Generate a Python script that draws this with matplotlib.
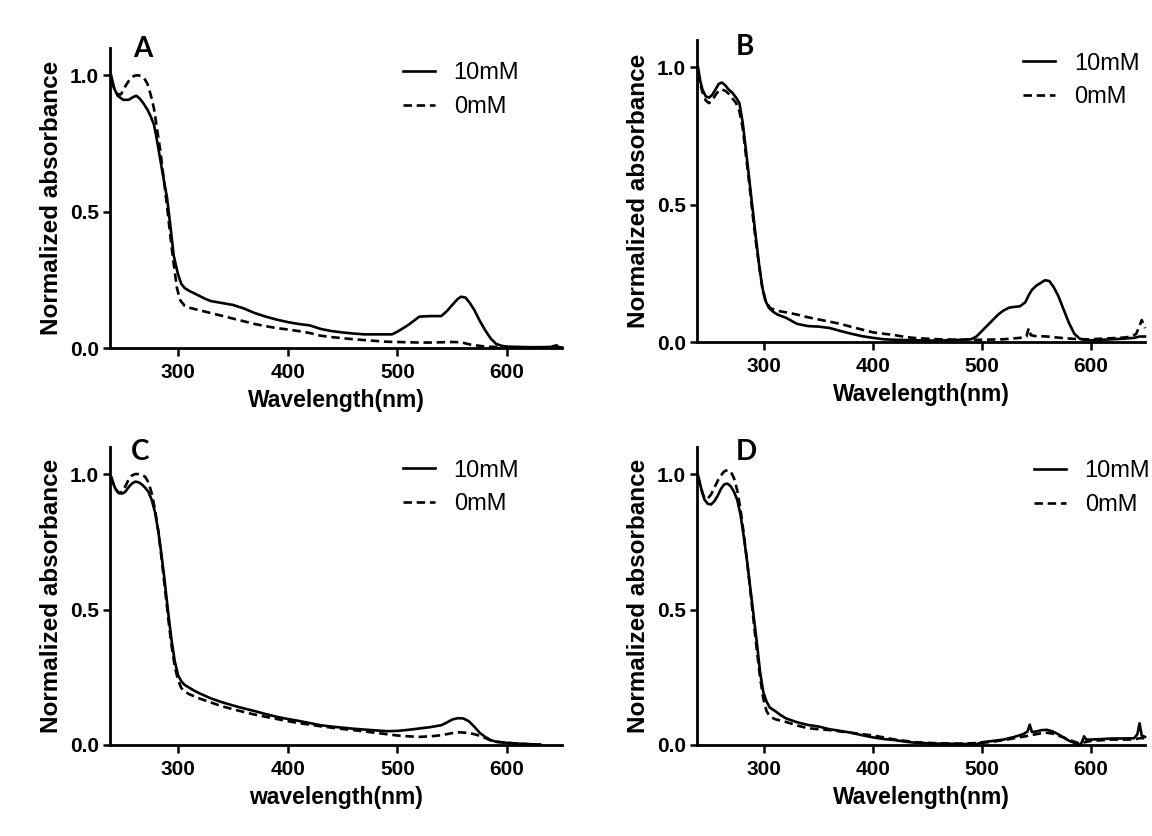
import matplotlib
matplotlib.use("Agg")
import matplotlib.pyplot as plt

plt.rcParams['font.family'] = ['Liberation Sans', 'DejaVu Sans']

# ---------------- data ----------------
a_wl_10 = [239,242,245,250,255,259,262,265,268,272,275,278,280,283,286,290,293,296,300,303,
           306,310,315,320,325,330,340,350,360,370,380,390,400,410,420,430,440,450,460,470,
           480,490,495,500,505,510,515,520,530,540,545,550,555,558,562,566,570,575,580,585,
           590,595,600,610,620,630,640,645,647,650]
a_abs_10 = [1.0,0.95,0.925,0.91,0.91,0.92,0.925,0.915,0.90,0.875,0.85,0.82,0.78,0.71,0.64,0.55,0.45,0.34,0.27,0.235,
            0.22,0.21,0.2,0.19,0.18,0.172,0.165,0.158,0.145,0.128,0.115,0.104,0.095,0.088,0.083,0.07,0.062,0.057,0.053,0.05,
            0.05,0.05,0.05,0.06,0.072,0.085,0.1,0.115,0.117,0.117,0.135,0.158,0.18,0.188,0.185,0.165,0.14,0.1,0.065,0.035,
            0.015,0.008,0.005,0.004,0.003,0.003,0.004,0.01,0.003,0.002]
a_wl_0 = [239,242,245,248,252,256,260,263,266,269,272,275,278,281,284,287,290,293,296,299,
          302,306,310,315,320,330,340,350,360,370,380,390,400,410,420,430,440,450,460,470,
          480,490,500,510,520,530,540,550,558,563,568,575,580,590,600,620,640,650]
a_abs_0 = [0.98,0.95,0.93,0.93,0.96,0.985,0.998,1.0,0.998,0.99,0.97,0.93,0.88,0.80,0.72,0.62,0.52,0.41,0.31,0.22,
           0.175,0.155,0.148,0.143,0.138,0.128,0.118,0.108,0.098,0.088,0.08,0.073,0.068,0.062,0.055,0.045,0.04,0.036,0.032,0.029,
           0.026,0.023,0.022,0.021,0.02,0.02,0.021,0.022,0.021,0.016,0.011,0.008,0.005,0.004,0.003,0.002,0.002,0.001]

b_wl_10 = [239,241,243,246,249,252,255,258,261,264,267,270,274,277,280,283,286,289,292,295,
           298,301,304,308,312,320,330,340,350,360,370,380,390,400,410,420,440,460,480,490,
           495,500,505,510,515,520,525,530,535,540,543,546,550,554,558,562,566,570,575,580,
           585,590,595,600,610,620,630,640,645,650]
b_abs_10 = [1.0,0.95,0.92,0.895,0.89,0.9,0.92,0.94,0.945,0.935,0.92,0.91,0.89,0.87,0.80,0.70,0.595,0.49,0.385,0.285,
            0.20,0.15,0.125,0.11,0.1,0.088,0.066,0.058,0.056,0.051,0.04,0.03,0.021,0.015,0.01,0.008,0.006,0.005,0.008,0.01,
            0.02,0.04,0.06,0.08,0.1,0.115,0.125,0.128,0.13,0.145,0.17,0.19,0.205,0.215,0.225,0.222,0.2,0.17,0.12,0.07,
            0.03,0.012,0.008,0.006,0.008,0.01,0.012,0.015,0.02,0.02]
b_wl_0 = [239,241,243,246,249,252,255,258,261,264,267,270,274,277,280,283,286,289,292,295,
          298,301,305,310,320,330,340,350,360,370,380,390,400,410,420,430,440,460,480,500,
          520,535,541,543,545,548,560,575,590,600,610,620,630,638,642,645,647,650]
b_abs_0 = [0.98,0.94,0.91,0.88,0.87,0.88,0.9,0.915,0.92,0.915,0.905,0.89,0.87,0.84,0.78,0.68,0.58,0.47,0.37,0.28,
           0.2,0.15,0.125,0.115,0.108,0.1,0.09,0.082,0.074,0.066,0.055,0.045,0.035,0.03,0.025,0.018,0.014,0.01,0.008,0.008,
           0.01,0.015,0.02,0.05,0.025,0.022,0.02,0.014,0.01,0.01,0.012,0.014,0.016,0.02,0.03,0.06,0.08,0.05]

c_wl_10 = [239,241,243,246,249,252,255,258,261,264,267,270,273,276,279,282,285,288,291,294,
           297,300,303,306,310,315,320,330,340,350,360,370,380,390,400,410,420,430,440,450,
           460,470,480,490,500,510,520,530,540,545,550,555,560,565,570,575,580,585,590,600,
           610,620,630]
c_abs_10 = [0.99,0.965,0.945,0.93,0.928,0.935,0.952,0.965,0.972,0.97,0.962,0.95,0.935,0.905,0.86,0.79,0.7,0.6,0.49,0.39,
            0.31,0.258,0.235,0.222,0.212,0.2,0.19,0.172,0.158,0.146,0.135,0.125,0.114,0.104,0.096,0.089,0.081,0.073,0.068,0.064,
            0.06,0.057,0.054,0.051,0.052,0.056,0.061,0.066,0.073,0.083,0.094,0.099,0.098,0.088,0.068,0.045,0.03,0.018,0.012,0.008,
            0.005,0.003,0.002]
c_wl_0 = [239,241,243,246,249,252,255,258,261,264,267,270,273,276,279,282,285,288,291,294,
          297,300,303,306,310,320,330,340,350,360,370,380,390,400,410,420,430,440,450,460,
          470,480,490,500,510,520,530,540,550,555,560,565,570,575,580,585,590,600,610,620]
c_abs_0 = [0.99,0.965,0.945,0.93,0.935,0.955,0.98,0.995,1.0,1.0,0.998,0.99,0.97,0.93,0.87,0.79,0.69,0.58,0.47,0.37,
           0.29,0.24,0.21,0.198,0.188,0.171,0.157,0.143,0.132,0.122,0.112,0.104,0.096,0.088,0.081,0.075,0.069,0.064,0.059,0.055,
           0.05,0.045,0.04,0.035,0.032,0.03,0.032,0.036,0.044,0.047,0.046,0.044,0.04,0.034,0.026,0.017,0.012,0.008,0.005,0.003]

d_wl_10 = [239,241,243,245,248,251,254,257,260,263,266,269,272,275,278,281,284,287,290,293,
           296,299,302,305,310,315,320,330,340,350,360,370,380,390,400,410,420,430,440,460,
           480,495,500,510,520,530,538,542,544,546,550,555,560,565,570,575,580,585,590,592,
           594,596,600,610,620,630,640,643,645,647,650]
d_abs_10 = [0.995,0.96,0.93,0.905,0.89,0.888,0.9,0.92,0.945,0.962,0.965,0.955,0.935,0.905,0.85,0.77,0.68,0.58,0.48,0.38,
            0.27,0.195,0.16,0.138,0.125,0.11,0.098,0.084,0.074,0.068,0.058,0.052,0.045,0.036,0.028,0.022,0.018,0.012,0.008,0.005,
            0.004,0.003,0.01,0.015,0.02,0.03,0.04,0.05,0.075,0.048,0.05,0.055,0.056,0.05,0.04,0.028,0.016,0.008,0.0,0.01,
            0.032,0.02,0.02,0.022,0.024,0.024,0.025,0.04,0.08,0.035,0.03]
d_wl_0 = [239,241,243,245,248,251,254,257,260,263,266,269,272,275,278,281,284,287,290,293,
          296,299,302,305,310,320,330,340,350,360,370,380,390,400,410,420,440,460,480,500,
          510,520,530,540,550,558,565,575,585,590,600,620,640,645,650]
d_abs_0 = [0.99,0.96,0.93,0.91,0.91,0.925,0.95,0.975,0.995,1.01,1.015,1.01,0.985,0.94,0.87,0.78,0.68,0.57,0.46,0.35,
           0.25,0.17,0.125,0.105,0.095,0.085,0.072,0.062,0.058,0.055,0.05,0.045,0.04,0.035,0.028,0.02,0.01,0.006,0.005,0.008,
           0.012,0.018,0.025,0.032,0.04,0.046,0.042,0.028,0.012,0.006,0.015,0.02,0.02,0.025,0.025]

panel_letters = ["A", "B", "C", "D"]
x_labels = ["Wavelength(nm)", "Wavelength(nm)", "wavelength(nm)", "Wavelength(nm)"]
series_labels = ["10mM", "0mM"]
x_ticks = [300, 400, 500, 600]
y_ticks = [0.0, 0.5, 1.0]
y_ticklabels = ["0.0", "0.5", "1.0"]

panels = [
    (a_wl_10, a_abs_10, a_wl_0, a_abs_0),
    (b_wl_10, b_abs_10, b_wl_0, b_abs_0),
    (c_wl_10, c_abs_10, c_wl_0, c_abs_0),
    (d_wl_10, d_abs_10, d_wl_0, d_abs_0),
]

# ---------------- layout ----------------
W, H = 1152, 836
fig = plt.figure(figsize=(W / 100, H / 100), dpi=100)

# pixel boxes: left, top, right, bottom
boxes = [(110, 48, 562, 348), (697, 40, 1145, 342), (110, 447, 562, 745), (697, 447, 1145, 745)]
letter_pos = [(0.073, 0.97), (0.107, 0.95), (0.066, 0.956), (0.109, 0.956)]
legend_pos = [(0.648, 0.952), (0.728, 0.958), (0.648, 0.958), (0.752, 0.955)]

for i, (l, t, r, b) in enumerate(boxes):
    ax = fig.add_axes([l / W, 1 - b / H, (r - l) / W, (b - t) / H])
    wl10, ab10, wl0, ab0 = panels[i]
    ax.plot(wl10, ab10, color="black", lw=1.9, ls="-", label=series_labels[0], clip_on=False)
    ax.plot(wl0, ab0, color="black", lw=1.9, ls=(0, (3.2, 1.8)), label=series_labels[1], clip_on=False)
    ax.set_xlim(238, 650)
    ax.set_ylim(0, 1.1)
    for s in ["top", "right"]:
        ax.spines[s].set_visible(False)
    for s in ["left", "bottom"]:
        ax.spines[s].set_linewidth(2.0)
    ax.set_xticks(x_ticks)
    ax.set_yticks(y_ticks)
    ax.set_yticklabels(y_ticklabels)
    ax.tick_params(axis="x", length=6, width=1.8, direction="out", pad=5, labelsize=15)
    ax.tick_params(axis="y", length=5, width=1.8, direction="out", pad=3, labelsize=15)
    for lab in ax.get_xticklabels() + ax.get_yticklabels():
        lab.set_fontweight("bold")
    ax.set_xlabel(x_labels[i], fontsize=16.5, fontweight="bold", labelpad=5)
    ax.set_ylabel("Normalized absorbance", fontsize=17.5, fontweight="bold", labelpad=5)
    ax.text(letter_pos[i][0], letter_pos[i][1], panel_letters[i], transform=ax.transAxes,
            ha="center", va="baseline", fontsize=20, fontweight="bold", family=["Lato", "DejaVu Sans"])
    ax.legend(loc="upper left", bbox_to_anchor=legend_pos[i], frameon=False, fontsize=17,
              handlelength=1.35, handletextpad=0.8, labelspacing=0.5, borderpad=0, borderaxespad=0)

fig.savefig("out.png", dpi=100)
